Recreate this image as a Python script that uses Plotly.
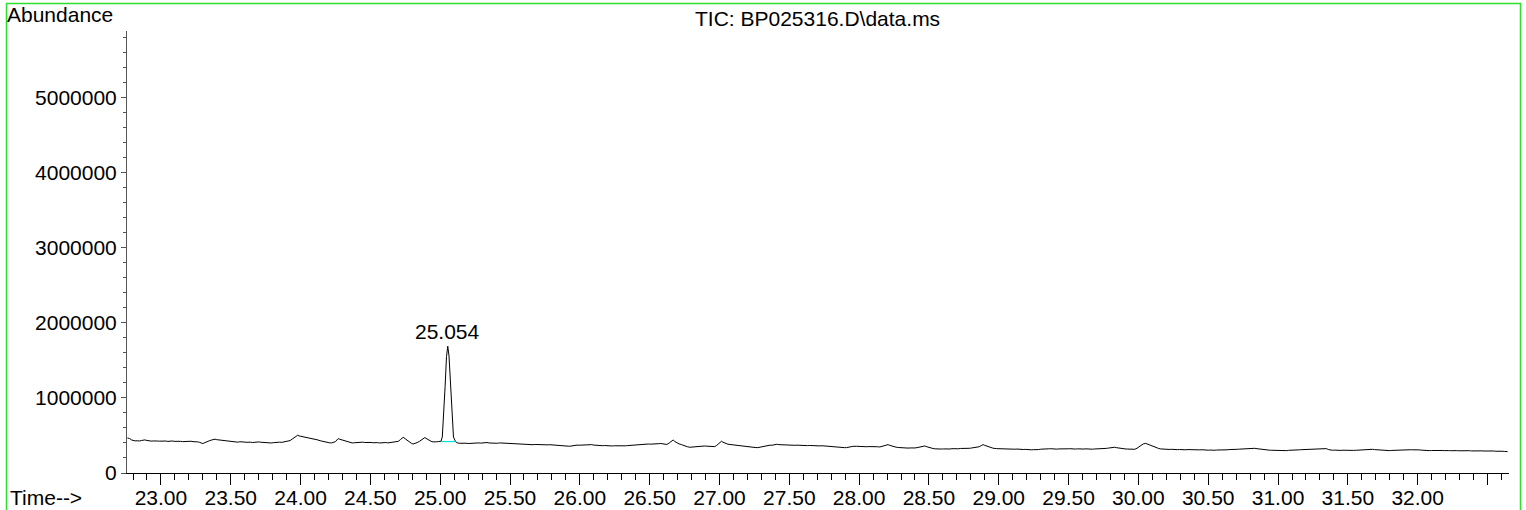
import plotly.graph_objects as go

# ---- data (time in minutes, abundance in thousands) ----
time_min = [
    22.76, 22.775, 22.79, 22.80, 22.815, 22.83, 22.845, 22.86, 22.875, 22.885, 22.90, 22.915, 22.93, 22.945, 22.96, 22.975, 22.99,
    23.005, 23.02, 23.035, 23.05, 23.065, 23.08, 23.095, 23.11, 23.125, 23.14, 23.155, 23.17, 23.185, 23.20, 23.215, 23.23, 23.245,
    23.26, 23.275, 23.29, 23.30, 23.315, 23.33, 23.345, 23.36, 23.375, 23.387, 23.40, 23.415, 23.43, 23.445, 23.46, 23.475, 23.49,
    23.505, 23.52, 23.535, 23.55, 23.565, 23.58, 23.595, 23.61, 23.625, 23.64, 23.655, 23.67, 23.685, 23.70, 23.715, 23.73, 23.745,
    23.76, 23.775, 23.79, 23.805, 23.82, 23.835, 23.85, 23.865, 23.88, 23.895, 23.91, 23.925, 23.94, 23.955, 23.967, 23.979, 23.99,
    24.005, 24.02, 24.036, 24.05, 24.065, 24.08, 24.095, 24.11, 24.125, 24.14, 24.155, 24.174, 24.19, 24.205, 24.222, 24.235, 24.25,
    24.26, 24.269, 24.28, 24.295, 24.31, 24.325, 24.34, 24.355, 24.37, 24.385, 24.40, 24.415, 24.43, 24.445, 24.46, 24.475, 24.49,
    24.505, 24.52, 24.535, 24.55, 24.565, 24.58, 24.595, 24.61, 24.625, 24.64, 24.655, 24.67, 24.685, 24.70, 24.715, 24.735, 24.75,
    24.765, 24.78, 24.795, 24.806, 24.82, 24.835, 24.85, 24.865, 24.88, 24.89, 24.905, 24.92, 24.935, 24.95, 24.962, 24.975, 24.99,
    25.005, 25.015, 25.025, 25.035, 25.045, 25.054, 25.063, 25.073, 25.083, 25.095, 25.11, 25.125, 25.14, 25.155, 25.17, 25.185,
    25.20, 25.215, 25.23, 25.245, 25.26, 25.275, 25.29, 25.305, 25.32, 25.335, 25.35, 25.365, 25.38, 25.395, 25.41, 25.425, 25.44,
    25.455, 25.47, 25.485, 25.50, 25.515, 25.53, 25.545, 25.56, 25.575, 25.59, 25.605, 25.62, 25.635, 25.65, 25.665, 25.68, 25.695,
    25.71, 25.725, 25.74, 25.755, 25.77, 25.785, 25.80, 25.815, 25.83, 25.845, 25.86, 25.875, 25.89, 25.905, 25.92, 25.935, 25.95,
    25.965, 25.98, 25.995, 26.01, 26.025, 26.04, 26.055, 26.07, 26.085, 26.10, 26.115, 26.13, 26.145, 26.16, 26.175, 26.19, 26.205,
    26.22, 26.235, 26.25, 26.265, 26.28, 26.295, 26.31, 26.325, 26.34, 26.355, 26.37, 26.385, 26.40, 26.415, 26.43, 26.445, 26.46,
    26.475, 26.49, 26.505, 26.52, 26.535, 26.55, 26.565, 26.58, 26.595, 26.61, 26.623, 26.64, 26.655, 26.668, 26.68, 26.695, 26.71,
    26.728, 26.74, 26.755, 26.77, 26.787, 26.80, 26.815, 26.83, 26.845, 26.86, 26.875, 26.895, 26.91, 26.925, 26.94, 26.955, 26.966,
    26.98, 26.995, 27.005, 27.014, 27.025, 27.04, 27.06, 27.075, 27.09, 27.105, 27.12, 27.135, 27.15, 27.165, 27.181, 27.195, 27.21,
    27.225, 27.24, 27.255, 27.274, 27.29, 27.305, 27.32, 27.335, 27.35, 27.362, 27.375, 27.39, 27.41, 27.425, 27.44, 27.455, 27.47,
    27.485, 27.50, 27.515, 27.54, 27.555, 27.57, 27.585, 27.60, 27.615, 27.63, 27.645, 27.66, 27.675, 27.69, 27.705, 27.72, 27.735,
    27.75, 27.776, 27.79, 27.805, 27.82, 27.835, 27.85, 27.865, 27.88, 27.895, 27.909, 27.925, 27.94, 27.955, 27.98, 27.995, 28.01,
    28.025, 28.04, 28.055, 28.07, 28.085, 28.10, 28.115, 28.13, 28.148, 28.165, 28.18, 28.195, 28.207, 28.22, 28.235, 28.25, 28.265,
    28.28, 28.29, 28.305, 28.32, 28.335, 28.35, 28.365, 28.384, 28.40, 28.415, 28.43, 28.445, 28.46, 28.47, 28.485, 28.50, 28.515,
    28.53, 28.545, 28.56, 28.577, 28.59, 28.605, 28.62, 28.635, 28.65, 28.665, 28.68, 28.695, 28.71, 28.725, 28.742, 28.76, 28.775,
    28.79, 28.805, 28.82, 28.842, 28.86, 28.875, 28.888, 28.90, 28.915, 28.93, 28.945, 28.96, 28.983, 29.00, 29.015, 29.03, 29.045,
    29.06, 29.075, 29.09, 29.10, 29.115, 29.13, 29.145, 29.16, 29.175, 29.19, 29.205, 29.22, 29.235, 29.25, 29.27, 29.285, 29.30,
    29.315, 29.33, 29.341, 29.355, 29.37, 29.385, 29.40, 29.415, 29.43, 29.445, 29.458, 29.472, 29.49, 29.505, 29.52, 29.535, 29.55,
    29.565, 29.58, 29.595, 29.61, 29.625, 29.64, 29.655, 29.67, 29.685, 29.709, 29.725, 29.74, 29.755, 29.77, 29.785, 29.80, 29.815,
    29.83, 29.845, 29.86, 29.875, 29.89, 29.905, 29.92, 29.935, 29.95, 29.974, 29.99, 30.005, 30.02, 30.035, 30.052, 30.065, 30.08,
    30.095, 30.117, 30.13, 30.145, 30.16, 30.175, 30.188, 30.205, 30.22, 30.235, 30.25, 30.265, 30.28, 30.295, 30.31, 30.325, 30.34,
    30.355, 30.37, 30.385, 30.40, 30.425, 30.44, 30.455, 30.47, 30.485, 30.50, 30.515, 30.53, 30.547, 30.56, 30.575, 30.59, 30.605,
    30.62, 30.635, 30.65, 30.665, 30.68, 30.695, 30.711, 30.725, 30.74, 30.755, 30.77, 30.785, 30.80, 30.815, 30.833, 30.85, 30.865,
    30.88, 30.895, 30.91, 30.925, 30.94, 30.954, 30.97, 30.985, 31.00, 31.015, 31.03, 31.047, 31.06, 31.075, 31.09, 31.105, 31.12,
    31.14, 31.155, 31.17, 31.185, 31.20, 31.215, 31.23, 31.245, 31.26, 31.275, 31.29, 31.305, 31.32, 31.335, 31.346, 31.36, 31.375,
    31.39, 31.405, 31.42, 31.435, 31.45, 31.465, 31.48, 31.495, 31.51, 31.525, 31.54, 31.563, 31.58, 31.595, 31.61, 31.625, 31.64,
    31.655, 31.677, 31.69, 31.705, 31.72, 31.735, 31.75, 31.765, 31.78, 31.80, 31.815, 31.83, 31.845, 31.86, 31.875, 31.89, 31.905,
    31.92, 31.935, 31.95, 31.965, 31.98, 31.993, 32.01, 32.025, 32.04, 32.055, 32.07, 32.086, 32.10, 32.115, 32.13, 32.145, 32.16,
    32.175, 32.19, 32.205, 32.22, 32.235, 32.25, 32.265, 32.279, 32.295, 32.31, 32.325, 32.34, 32.355, 32.37, 32.385, 32.40, 32.415,
    32.43, 32.445, 32.46, 32.475, 32.49, 32.515, 32.53, 32.545, 32.56, 32.575, 32.59, 32.605, 32.62, 32.644,
]

abundance_k = [
    467, 460, 440, 432, 428, 430, 426, 433, 438, 441, 434, 428, 425, 427, 422, 426, 424,
    428, 423, 426, 421, 425, 427, 422, 424, 419, 422, 418, 421, 417, 420, 423, 418, 421,
    415, 410, 398, 392, 405, 420, 428, 438, 446, 451, 444, 440, 436, 432, 434, 426, 422,
    418, 420, 414, 411, 416, 410, 413, 409, 414, 411, 406, 412, 409, 414, 410, 406, 411,
    404, 401, 400, 404, 408, 405, 411, 408, 412, 414, 420, 432, 452, 476, 495, 503, 494,
    488, 484, 473, 470, 466, 462, 459, 450, 440, 430, 422, 414, 406, 403, 400, 404, 418,
    440, 458, 450, 440, 432, 420, 410, 405, 400, 403, 406, 402, 408, 411, 406, 409, 404,
    407, 403, 408, 405, 400, 404, 402, 406, 401, 404, 403, 407, 412, 422, 445, 476, 455,
    432, 410, 394, 387, 392, 405, 420, 440, 465, 472, 455, 436, 422, 414, 412, 416, 419,
    422, 480, 760, 1150, 1550, 1690, 1560, 1180, 780, 480, 416, 400, 396, 398, 394, 397,
    393, 396, 395, 399, 397, 401, 398, 402, 405, 406, 400, 397, 394, 398, 396, 401, 399,
    397, 400, 402, 400, 396, 392, 388, 385, 383, 381, 379, 378, 382, 379, 377, 380, 378,
    382, 377, 376, 379, 375, 377, 374, 376, 372, 374, 371, 368, 364, 360, 357, 358, 364,
    368, 372, 370, 373, 371, 374, 372, 376, 378, 372, 368, 366, 369, 364, 366, 362, 364,
    361, 360, 363, 361, 364, 360, 363, 362, 365, 368, 366, 371, 374, 372, 377, 380, 382,
    384, 386, 384, 388, 386, 389, 391, 393, 388, 382, 380, 400, 425, 440, 420, 398, 388,
    378, 368, 358, 350, 343, 346, 349, 353, 356, 358, 356, 360, 357, 355, 353, 351, 352,
    368, 395, 412, 423, 410, 396, 384, 380, 376, 373, 370, 368, 365, 363, 360, 356, 352,
    348, 344, 340, 338, 345, 352, 358, 362, 366, 371, 369, 376, 383, 378, 376, 378, 374,
    376, 372, 374, 369, 371, 368, 370, 366, 369, 365, 367, 364, 366, 363, 365, 361, 363,
    360, 360, 352, 347, 344, 343, 340, 338, 337, 338, 338, 346, 352, 355, 356, 353, 355,
    351, 353, 350, 352, 349, 351, 348, 350, 347, 355, 364, 372, 378, 368, 358, 350, 344,
    340, 338, 336, 334, 336, 332, 334, 330, 334, 338, 344, 350, 356, 360, 350, 340, 332,
    326, 322, 318, 316, 319, 321, 318, 322, 320, 324, 321, 326, 323, 327, 325, 328, 331,
    329, 333, 336, 338, 350, 366, 378, 368, 356, 344, 335, 330, 325, 323, 326, 322, 324,
    320, 323, 319, 320, 317, 319, 315, 317, 313, 315, 311, 313, 309, 311, 307, 312, 317,
    321, 324, 325, 322, 324, 320, 322, 318, 321, 319, 320, 325, 322, 324, 320, 323, 319,
    322, 318, 321, 319, 322, 318, 321, 317, 320, 320, 324, 322, 326, 328, 332, 337, 341,
    343, 337, 331, 327, 324, 321, 319, 317, 318, 316, 330, 350, 370, 388, 395, 385, 370,
    358, 343, 334, 327, 321, 318, 316, 318, 314, 316, 312, 314, 311, 313, 310, 313, 309,
    312, 310, 313, 309, 311, 308, 310, 306, 308, 304, 306, 302, 303, 306, 305, 308, 307,
    310, 309, 312, 311, 314, 313, 316, 318, 320, 322, 324, 326, 327, 328, 329, 324, 319,
    315, 311, 308, 306, 304, 303, 301, 299, 298, 296, 295, 294, 298, 302, 305, 307, 306,
    307, 309, 311, 313, 315, 317, 319, 320, 321, 322, 323, 322, 324, 326, 325, 313, 306,
    303, 305, 302, 304, 301, 304, 302, 305, 302, 304, 301, 303, 306, 308, 311, 313, 315,
    314, 316, 312, 309, 306, 303, 301, 299, 300, 298, 301, 303, 305, 304, 307, 306, 308,
    307, 309, 310, 309, 311, 311, 308, 305, 302, 300, 299, 298, 300, 298, 301, 299, 297,
    300, 298, 301, 299, 297, 300, 298, 298, 296, 298, 295, 297, 295, 297, 294, 296, 294,
    296, 293, 295, 293, 295, 294, 291, 293, 290, 292, 289, 290, 287, 285,
]

# integration baseline drawn under the labelled peak
baseline_t = [25.005, 25.11]
baseline_k = [419, 419]

peak_rt = 25.054
peak_k = 1690
peak_label = "25.054"

x_tick_vals = [23.0, 23.5, 24.0, 24.5, 25.0, 25.5, 26.0, 26.5, 27.0, 27.5, 28.0, 28.5,
               29.0, 29.5, 30.0, 30.5, 31.0, 31.5, 32.0, 32.5]
x_tick_text = ["23.00", "23.50", "24.00", "24.50", "25.00", "25.50", "26.00", "26.50",
               "27.00", "27.50", "28.00", "28.50", "29.00", "29.50", "30.00", "30.50",
               "31.00", "31.50", "32.00", ""]
y_tick_vals = [0, 1000000, 2000000, 3000000, 4000000, 5000000]
y_tick_text = ["0", "1000000", "2000000", "3000000", "4000000", "5000000"]

title_text = "TIC: BP025316.D\\data.ms"

abundance = [v * 1000 for v in abundance_k]
baseline_a = [v * 1000 for v in baseline_k]

FONT = "Liberation Sans, Arial, sans-serif"
FS = 21

fig = go.Figure()
fig.add_trace(go.Scatter(x=time_min, y=abundance, mode="lines",
                         line=dict(color="black", width=1), hoverinfo="skip"))
fig.add_trace(go.Scatter(x=baseline_t, y=baseline_a, mode="lines",
                         line=dict(color="#00e0e0", width=1.2), hoverinfo="skip"))

# plot area in pixels: x 127..1509, y 31..472.7
L, R, T, B = 127, 17, 31, 37
W, H = 1526, 510
pw = W - L - R
ph = H - T - B


def px(p):
    return (p - L) / pw


def py(q):
    return (H - B - q) / ph


fig.add_annotation(x=peak_rt, y=peak_k * 1000, text=peak_label, showarrow=False,
                   xanchor="center", yanchor="bottom", yshift=1,
                   font=dict(size=FS, color="black", family=FONT))
fig.add_annotation(x=px(817.5), y=py(18), xref="paper", yref="paper", text=title_text,
                   showarrow=False, xanchor="center", yanchor="middle",
                   font=dict(size=FS, color="black", family=FONT))
fig.add_annotation(x=px(5), y=py(15), xref="paper", yref="paper", text="Abundance",
                   showarrow=False, xanchor="left", yanchor="middle",
                   font=dict(size=FS, color="black", family=FONT))
fig.add_annotation(x=px(8), y=py(497), xref="paper", yref="paper", text="Time-->",
                   showarrow=False, xanchor="left", yanchor="middle",
                   font=dict(size=FS, color="black", family=FONT))

# green frame
fig.add_shape(type="rect", xref="paper", yref="paper",
              x0=px(6.5), x1=px(1520.5), y0=py(520), y1=py(3.5),
              line=dict(color="#2ee02e", width=1.5), layer="below")

fig.update_layout(
    width=W, height=H, autosize=False,
    margin=dict(l=L, r=R, t=T, b=B, autoexpand=False),
    paper_bgcolor="white", plot_bgcolor="white",
    showlegend=False,
    font=dict(family=FONT, size=FS, color="black"),
    xaxis=dict(
        range=[22.757, 32.654], showgrid=False, zeroline=False,
        showline=True, linecolor="black", linewidth=1,
        ticks="outside", ticklen=11, tickcolor="black", tickwidth=1,
        tickmode="array", tickvals=x_tick_vals, ticktext=x_tick_text,
        tickfont=dict(size=FS, color="black", family=FONT),
        ticklabelstandoff=-5,
        minor=dict(tickmode="linear", tick0=23.0, dtick=0.1, ticklen=6,
                   ticks="outside", tickcolor="black", tickwidth=1, showgrid=False),
    ),
    yaxis=dict(
        range=[0, 5890000], showgrid=False, zeroline=False,
        showline=True, linecolor="#555555", linewidth=1,
        ticks="outside", ticklen=5, tickcolor="#555555", tickwidth=1,
        tickmode="array", tickvals=y_tick_vals, ticktext=y_tick_text,
        tickfont=dict(size=FS, color="black", family=FONT),
        minor=dict(tickmode="linear", tick0=0, dtick=200000, ticklen=3,
                   ticks="outside", tickcolor="#555555", tickwidth=1, showgrid=False),
    ),
)

fig.write_html(
    "out.html",
    config={"responsive": False, "displayModeBar": False},
    post_script="document.body.style.margin='0';document.body.style.padding='0';"
                "document.body.style.overflow='hidden';",
)
